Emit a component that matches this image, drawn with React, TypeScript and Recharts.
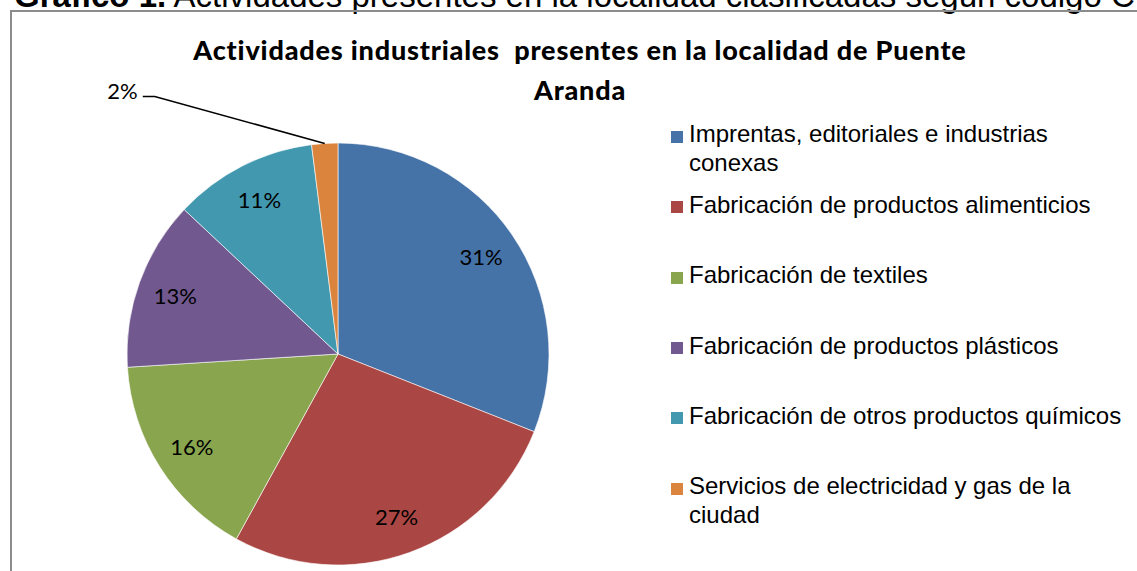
import { PieChart, Pie, Cell, Legend } from 'recharts';

const categories = [
  'Imprentas, editoriales e industrias conexas',
  'Fabricación de productos alimenticios',
  'Fabricación de textiles',
  'Fabricación de productos plásticos',
  'Fabricación de otros productos químicos',
  'Servicios de electricidad y gas de la ciudad',
];
const shares = [31, 27, 16, 13, 11, 2];
const colors = ['#4572A7', '#AA4643', '#89A54E', '#71588F', '#4198AF', '#DB843D'];

const data = categories.map((name, i) => ({ name, value: shares[i], fill: colors[i] }));

const RAD = Math.PI / 180;
const labelFont = 'Lato, "Open Sans", sans-serif';

function renderLabel(props: any) {
  const { cx, cy, midAngle, outerRadius, percent } = props;
  const text = `${Math.round(percent * 100)}%`;
  const cos = Math.cos(-midAngle * RAD);
  const sin = Math.sin(-midAngle * RAD);

  if (percent < 0.05) {
    // small slice: label sits outside with a leader line
    const sx = cx + outerRadius * cos;
    const sy = cy + outerRadius * sin;
    const ex = sx - 170;
    const ey = sy - 47;
    return (
      <g>
        <polyline
          points={`${sx},${sy} ${ex},${ey} ${ex - 12},${ey}`}
          stroke="#000"
          strokeWidth={1.5}
          fill="none"
        />
        <text x={ex - 17} y={ey - 6} textAnchor="end" dominantBaseline="central" fontFamily={labelFont} fontSize={22} fill="#000">
          {text}
        </text>
      </g>
    );
  }

  const r = outerRadius * 0.82;
  return (
    <text
      x={cx + r * cos}
      y={cy + r * sin}
      textAnchor="middle"
      dominantBaseline="central"
      fontFamily={labelFont}
      fontSize={22}
      fill="#000"
    >
      {text}
    </text>
  );
}

function LegendBox() {
  return (
    <div style={{ position: 'relative', width: 466, height: 430 }}>
      {categories.map((name, i) => (
        <div
          key={name}
          style={{
            position: 'absolute',
            left: 0,
            top: i * 70.4,
            width: 460,
            fontFamily: '"Liberation Sans", Arial, sans-serif',
            fontSize: 24,
            lineHeight: '28.5px',
            color: '#000',
          }}
        >
          <span
            style={{
              position: 'absolute',
              left: 0,
              top: 10.5,
              width: 12,
              height: 12,
              background: colors[i],
            }}
          />
          <div style={{ marginLeft: 18, width: 440 }}>{name}</div>
        </div>
      ))}
    </div>
  );
}

export default function App() {
  return (
    <div style={{ position: 'absolute', left: 0, top: 0, width: 1137, height: 571, background: '#fff', overflow: 'hidden' }}>
      <svg width={1137} height={571} style={{ position: 'absolute', left: 0, top: 0 }}>
        <text x={14} y={7} fontFamily='"Liberation Sans", Arial, sans-serif' fontSize={33} fill="#000">
          <tspan fontWeight="bold">Gráfico 1.</tspan>
          <tspan> Actividades presentes en la localidad clasificadas según código CIIU</tspan>
        </text>
        <line x1={10} y1={11} x2={1137} y2={11} stroke="#8c8c8c" strokeWidth={2} />
        <line x1={11} y1={10} x2={11} y2={571} stroke="#8c8c8c" strokeWidth={2} />
        <text
          x={580}
          y={60}
          textAnchor="middle"
          fontFamily={labelFont}
          fontWeight={900}
          fontSize={27}
          letterSpacing={0.8}
          fill="#000"
          style={{ whiteSpace: 'pre' }}
        >
          Actividades industriales  presentes en la localidad de Puente
        </text>
        <text
          x={580}
          y={100}
          textAnchor="middle"
          fontFamily={labelFont}
          fontWeight={900}
          fontSize={27}
          letterSpacing={0.8}
          fill="#000"
        >
          Aranda
        </text>
      </svg>
      <div style={{ position: 'absolute', left: 0, top: 0 }}>
        <PieChart width={1137} height={571} margin={{ top: 0, right: 0, bottom: 0, left: 0 }}>
          <Pie
            data={data}
            dataKey="value"
            nameKey="name"
            cx={338}
            cy={354}
            outerRadius={211}
            startAngle={90}
            endAngle={-270}
            stroke="#ffffff"
            strokeWidth={0.6}
            label={renderLabel}
            labelLine={false}
            isAnimationActive={false}
          >
            {data.map((d, i) => (
              <Cell key={d.name} fill={colors[i]} />
            ))}
          </Pie>
          <Legend
            content={() => <LegendBox />}
            wrapperStyle={{ left: 671, top: 120.4, width: 466, height: 430 }}
          />
        </PieChart>
      </div>
    </div>
  );
}
